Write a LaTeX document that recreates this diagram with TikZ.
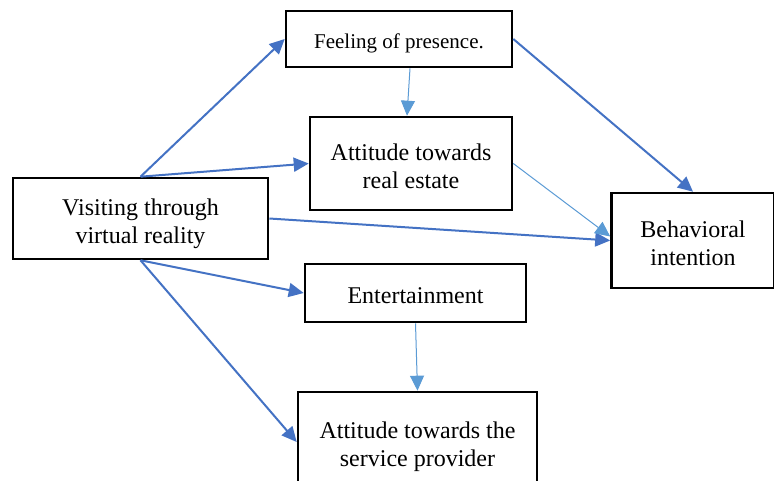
\documentclass[tikz,border=0pt]{standalone}
\usepackage{fontspec}
\setmainfont{Liberation Serif}
\usetikzlibrary{arrows.meta}
\definecolor{darkarrow}{HTML}{4472C4}
\definecolor{lightarrow}{HTML}{5B9BD5}
\newcommand{\boxtext}[1]{\raisebox{-5pt}[\height][\depth]{\begin{tabular}{@{}c@{}}#1\end{tabular}}}
\begin{document}
\begin{tikzpicture}[x=1pt,y=-1pt,
  box/.style={draw=black,line width=2.6pt,fill=white,inner sep=0pt,align=center,
    font=\fontsize{24}{28}\selectfont},
  darkconn/.style={draw=darkarrow,line width=2pt,-{Triangle[length=15pt,width=14pt]}},
  lightconn/.style={draw=lightarrow,line width=1pt,-{Triangle[length=15pt,width=14pt]}}]
\useasboundingbox (0,0) rectangle (774,481);
\clip (0,0) rectangle (774,481);
\fill[white] (0,0) rectangle (774,481);
\node[box,minimum width=226pt,minimum height=56pt,font=\fontsize{21}{25}\selectfont] (feel) at (399,39) {\boxtext{Feeling of presence.}};
\node[box,minimum width=202pt,minimum height=93pt] (are) at (411,163.5) {\boxtext{Attitude towards\\real estate}};
\node[box,minimum width=255pt,minimum height=81pt] (vis) at (140.5,218.5) {\boxtext{Visiting through\\virtual reality}};
\node[box,minimum width=163pt,minimum height=95pt] (beh) at (693,240.5) {\boxtext{Behavioral\\intention}};
\node[box,minimum width=221pt,minimum height=58pt] (ent) at (415.5,293) {\boxtext{Entertainment}};
\node[box,minimum width=239pt,minimum height=100pt] (svc) at (417.5,442) {\boxtext{Attitude towards the\\service provider}};
\draw[darkconn] (vis.north) -- (feel.west);
\draw[darkconn] (vis.north) -- (are.west);
\draw[darkconn] (vis.east) -- (beh.west);
\draw[darkconn] (feel.east) -- (beh.north);
\draw[darkconn] (vis.south) -- (ent.west);
\draw[darkconn] (vis.south) -- (svc.west);
\draw[lightconn] ([xshift=11pt]feel.south) -- ([xshift=-4pt]are.north);
\draw[lightconn] (are.east) -- ([yshift=4pt]beh.west);
\draw[lightconn] (ent.south) -- (svc.north);
\end{tikzpicture}
\end{document}
